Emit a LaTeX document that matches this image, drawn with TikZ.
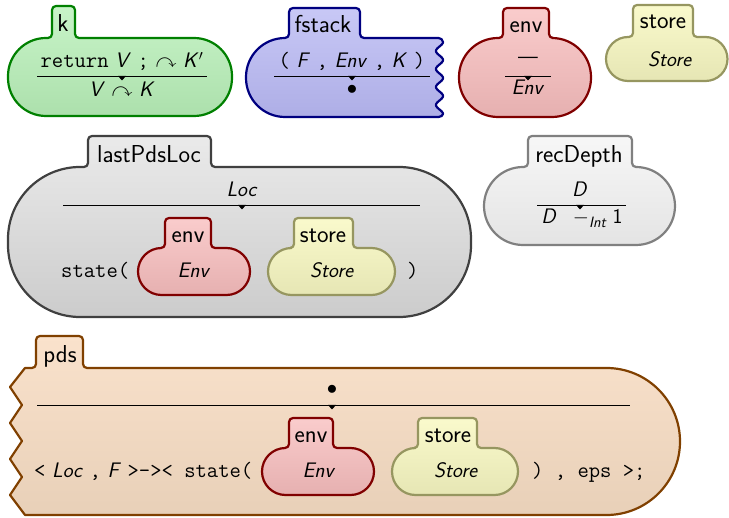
\documentclass[tikz,border=0pt]{standalone}
\usepackage{amsmath,amssymb}
\usepackage{fontspec}
\definecolor{kgD}{RGB}{0,128,0}\definecolor{kgT}{RGB}{200,244,200}\definecolor{kgB}{RGB}{172,224,172}
\definecolor{bD}{RGB}{0,0,128}\definecolor{bT}{RGB}{200,200,246}\definecolor{bB}{RGB}{174,174,230}
\definecolor{rD}{RGB}{128,0,0}\definecolor{rT}{RGB}{250,204,204}\definecolor{rB}{RGB}{230,176,176}
\definecolor{yD}{RGB}{150,150,96}\definecolor{yT}{RGB}{250,250,204}\definecolor{yB}{RGB}{230,230,180}
\definecolor{gD}{RGB}{64,64,64}\definecolor{gT}{RGB}{234,234,234}\definecolor{gB}{RGB}{204,204,204}
\definecolor{lD}{RGB}{128,128,128}\definecolor{lT}{RGB}{247,247,247}\definecolor{lB}{RGB}{228,228,228}
\definecolor{oD}{RGB}{128,64,0}\definecolor{oT}{RGB}{250,226,204}\definecolor{oB}{RGB}{232,208,184}
% path pieces (screen coordinates, y downwards)
\def\Ktab#1#2#3#4{(#1-4,#4) .. controls (#1-1.79,#4) and (#1,#4-1.79) .. (#1,#4-4)
 -- (#1,#3+4) .. controls (#1,#3+1.79) and (#1+1.79,#3) .. (#1+4,#3)
 -- (#2-4,#3) .. controls (#2-1.79,#3) and (#2,#3+1.79) .. (#2,#3+4)
 -- (#2,#4-4) .. controls (#2,#4-1.79) and (#2+1.79,#4) .. (#2+4,#4)}
\def\Kright#1#2#3#4{-- (#1-#4,#2) .. controls (#1-#4+0.5523*#4,#2) and (#1,#2+#4-0.5523*#4) .. (#1,#2+#4)
 -- (#1,#3-#4) .. controls (#1,#3-#4+0.5523*#4) and (#1-#4+0.5523*#4,#3) .. (#1-#4,#3)}
\def\Kleft#1#2#3#4{-- (#1+#4,#3) .. controls (#1+#4-0.5523*#4,#3) and (#1,#3-#4+0.5523*#4) .. (#1,#3-#4)
 -- (#1,#2+#4) .. controls (#1,#2+#4-0.5523*#4) and (#1+#4-0.5523*#4,#2) .. (#1+#4,#2) -- cycle}
\def\Ktri#1#2{\fill (#1-4,#2) -- (#1+4,#2) -- (#1,#2+4.5) -- cycle;}
\newcommand{\kv}[1]{\textit{#1}}
\newcommand{\kt}[1]{{\fontsize{22}{26}\selectfont\ttfamily #1}}
\begin{document}
\begin{tikzpicture}[x=1pt,y=-1pt,
  cell/.style={line width=2.2pt, line join=round},
  cgreen/.style={cell, draw=kgD, top color=kgT, bottom color=kgB},
  cblue/.style={cell, draw=bD, top color=bT, bottom color=bB},
  cred/.style={cell, draw=rD, top color=rT, bottom color=rB},
  cyellow/.style={cell, draw=yD, top color=yT, bottom color=yB},
  cgray/.style={cell, draw=gD, top color=gT, bottom color=gB},
  clight/.style={cell, draw=lD, top color=lT, bottom color=lB},
  corange/.style={cell, draw=oD, top color=oT, bottom color=oB},
  rule/.style={line width=0.9pt},
  lbl/.style={anchor=base, inner sep=0pt, font=\fontsize{24.5}{28}\selectfont\sffamily},
  txt/.style={anchor=base, inner sep=0pt, font=\fontsize{21}{25}\selectfont\sffamily},
  txtw/.style={txt, anchor=base west}]
\useasboundingbox (0,0) rectangle (729,518);
% ---------- k
\path[cgreen] \Ktab{52}{75}{6}{38} \Kright{232}{38}{116}{38} \Kleft{8}{38}{116}{38};
\node[lbl] (klbl) at (63,32) {k};
\node[txt] (ktop) at (122,68) {\kt{return} \kv{V} \kt{;} $\curvearrowright$ \kv{K}$'$};
\draw[rule] (37,76) -- (207,76); \Ktri{122}{76}
\node[txt] (kbot) at (122,97) {\kv{V} $\curvearrowright$ \kv{K}};
% ---------- fstack
\path[cblue] \Ktab{289}{360}{8}{38} -- (438.5,38) .. controls (440.7,38) and (443,39.8) .. (443,42)
  -- plot[variable=\t, domain=42:114, samples=73] ({439.5+3.5*cos(20*(\t-42))},\t)
  .. controls (443,115.5) and (440.7,117) .. (438.5,117) \Kleft{246}{38}{117}{39};
\node[lbl] (flbl) at (323,33) {fstack};
\node[txt] (ftop) at (352,68) {\kt{(} \kv{F} \kt{,} \kv{Env} \kt{,} \kv{K} \kt{)}};
\draw[rule] (274,76) -- (430,76); \Ktri{352}{76}
\node[txt, anchor=center] (fbot) at (352,90) {$\bullet$};
% ---------- env
\path[cred] \Ktab{503}{549}{8}{38} \Kright{591}{38}{117}{39} \Kleft{459}{38}{117}{39};
\node[lbl] (elbl) at (526,33) {env};
\node[txt, anchor=center] (etop) at (528,60) {\textemdash};
\draw[rule] (505,76) -- (551,76); \Ktri{528}{76}
\node[txt] (ebot) at (528,95) {\kv{Env}};
% ---------- store
\path[cyellow] \Ktab{633}{693}{5}{37} \Kright{727.5}{37}{81}{22} \Kleft{606}{37}{81}{22};
\node[lbl] (slbl) at (663,29) {store};
\node[txt] (sval) at (670,67) {\kv{Store}};
% ---------- lastPdsLoc
\path[cgray] \Ktab{88}{211}{136}{167} \Kright{471}{167}{317}{72} \Kleft{8}{167}{317}{72};
\node[lbl] (llbl) at (149,163) {lastPdsLoc};
\node[txt] (ltop) at (242,197) {\kv{Loc}};
\draw[rule] (63,205) -- (420,205); \Ktri{242}{205}
\node[txtw] (lstate) at (61,278) {\kt{state(}};
\path[cred] \Ktab{165}{211}{218}{248} \Kright{250}{248}{295}{23.5} \Kleft{138}{248}{295}{23.5};
\node[lbl] (lelbl) at (188,243) {env};
\node[txt] (leval) at (194,278) {\kv{Env}};
\path[cyellow] \Ktab{294}{353}{218}{248} \Kright{395}{248}{295}{23.5} \Kleft{268}{248}{295}{23.5};
\node[lbl] (lslbl) at (323,243) {store};
\node[txt] (lsval) at (332,278) {\kv{Store}};
\node[txtw] (lclose) at (407,278) {\kt{)}};
% ---------- recDepth
\path[clight] \Ktab{528}{632}{136}{167} \Kright{675}{167}{245}{39} \Kleft{484}{167}{245}{39};
\node[lbl] (rlbl) at (579,163) {recDepth};
\node[txt] (rtop) at (580,197) {\kv{D}};
\draw[rule] (537,205) -- (626,205); \Ktri{580}{205}
\node[txt] (rbot) at (582,224) {\kv{D}\hspace{16pt}$-$\raisebox{-4pt}{\fontsize{15}{15}\selectfont\kv{Int}}\hspace{6pt}1};
% ---------- pds
\path[corange] \Ktab{36}{83}{336}{368} \Kright{680}{368}{515}{73.5}
  -- (25,515) -- (10,495) -- (22,477) -- (10,459) -- (22,441) -- (10,423) -- (22,405) -- (10,387) -- (25,368) -- cycle;
\node[lbl] (plbl) at (60,363) {pds};
\node[txt, anchor=center] (ptop) at (332,390) {$\bullet$};
\draw[rule] (37,405) -- (630,405); \Ktri{332}{405}
\node[txtw] (prow) at (34,478) {\kt{<} \kv{Loc} \kt{,} \kv{F} \kt{>->< state(}};
\path[cred] \Ktab{289}{333}{418}{448} \Kright{374}{448}{495}{23.5} \Kleft{262}{448}{495}{23.5};
\node[lbl] (pelbl) at (311,443) {env};
\node[txt] (peval) at (319,478) {\kv{Env}};
\path[cyellow] \Ktab{418}{477}{418}{448} \Kright{518}{448}{495}{23.5} \Kleft{392}{448}{495}{23.5};
\node[lbl] (pslbl) at (448,443) {store};
\node[txt] (psval) at (456,478) {\kv{Store}};
\node[txtw] (pclose) at (532,478) {\kt{) , eps >;}};
\end{tikzpicture}
\end{document}
